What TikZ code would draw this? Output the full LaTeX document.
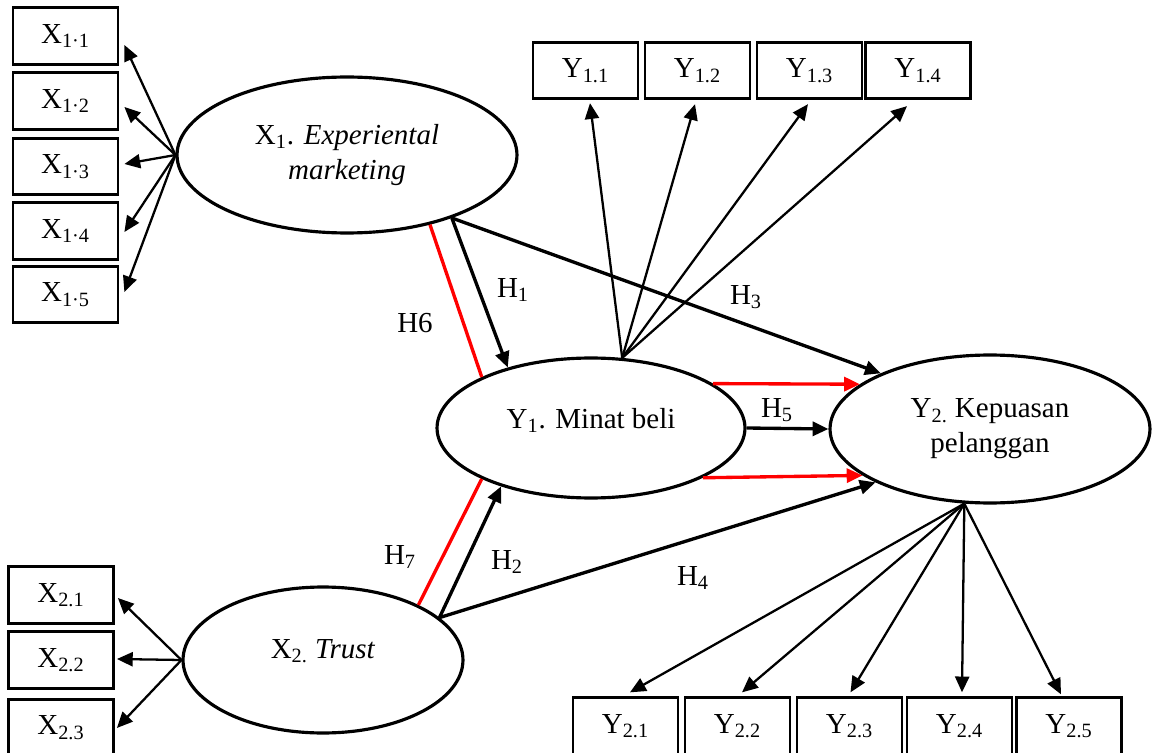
\documentclass[tikz,border=0pt]{standalone}
\usepackage{fontspec}
\setmainfont{Liberation Serif}
\usetikzlibrary{shapes.geometric,arrows.meta,calc}
\begin{document}
\begin{tikzpicture}[x=0.02cm,y=-0.02cm,
  font=\fontsize{16.5}{20}\selectfont,
  ind/.style={draw, line width=1.6pt, minimum width=2.1cm, minimum height=1.13cm, inner sep=0pt},
  lat/.style={draw, ellipse, line width=1.8pt, inner sep=0pt, align=center},
  load/.style={line width=1.3pt, -{Triangle[length=9pt,width=8pt]}},
  hyp/.style={line width=1.9pt, -{Triangle[length=9pt,width=8pt]}},
  redl/.style={line width=1.9pt, red},
  redarr/.style={line width=1.9pt, red, -{Triangle[length=9pt,width=8pt]}},
  lbl/.style={inner sep=0pt}]
\useasboundingbox (0,0) rectangle (1153,753);

% latent variables
\node[lat, minimum width=6.8cm, minimum height=3.12cm] (x1) at (347,155)
  {X\textsubscript{1}. \textit{Experiental}\\ \textit{marketing}};
\node[lat, minimum width=6.16cm, minimum height=2.8cm, text height=6pt, text depth=6pt] (y1) at (591,428)
  {Y\textsubscript{1}. Minat beli};
\node[lat, minimum width=6.4cm, minimum height=2.96cm] (y2) at (990,429)
  {Y\textsubscript{2.} Kepuasan\\ pelanggan};
\node[lat, minimum width=5.6cm, minimum height=2.92cm, text height=6pt, text depth=8pt] (x2) at (323,660)
  {X\textsubscript{2.} \textit{Trust}};

% indicators X1
\node[ind] (b11) at (65.5,36) {X\textsubscript{1·1}};
\node[ind] (b12) at (65.5,101) {X\textsubscript{1·2}};
\node[ind] (b13) at (65.5,166.5) {X\textsubscript{1·3}};
\node[ind] (b14) at (65.5,231) {X\textsubscript{1·4}};
\node[ind] (b15) at (65.5,294.5) {X\textsubscript{1·5}};

% indicators X2
\node[ind] (b21) at (61,595) {X\textsubscript{2.1}};
\node[ind] (b22) at (61,660) {X\textsubscript{2.2}};
\node[ind] (b23) at (61,727.5) {X\textsubscript{2.3}};

% indicators Y1
\node[ind] (c11) at (585.5,70.5) {Y\textsubscript{1.1}};
\node[ind] (c12) at (697.5,70.5) {Y\textsubscript{1.2}};
\node[ind] (c13) at (809.5,70.5) {Y\textsubscript{1.3}};
\node[ind] (c14) at (918,70.5) {Y\textsubscript{1.4}};

% indicators Y2
\node[ind] (d1) at (625.5,726) {Y\textsubscript{2.1}};
\node[ind] (d2) at (737.5,726) {Y\textsubscript{2.2}};
\node[ind] (d3) at (849.5,726) {Y\textsubscript{2.3}};
\node[ind] (d4) at (959.5,726) {Y\textsubscript{2.4}};
\node[ind] (d5) at (1069,726) {Y\textsubscript{2.5}};

% loadings
\foreach \b/\dx/\dy in {b11/5/9, b12/5/6, b13/5/-2.5, b14/5/1, b15/5/-2.5}
  \draw[load] (x1.west) -- ($(\b.east)+(\dx,\dy)$);
\foreach \b/\dx/\dy in {b21/3/3, b22/2/-1, b23/2/0.5}
  \draw[load] (x2.west) -- ($(\b.east)+(\dx,\dy)$);
\foreach \b/\dx/\dy in {c11/4.5/3, c12/-2.5/4, c13/-1.5/4, c14/-11/6}
  \draw[load] (y1.66) -- ($(\b.south)+(\dx,\dy)$);
\foreach \b/\dx/\dy in {d1/4.5/-4, d2/4.5/-4, d3/1/-4, d4/2.5/-4, d5/-8/-2}
  \draw[load] (y2.251) -- ($(\b.north)+(\dx,\dy)$);

% structural paths
\draw[redl] (x1.-40) -- (y1.155);
\draw[hyp] (x1.-31) -- (y1.144);
\draw[hyp] (x1.-31) -- (y2.153);
\draw[redarr] (y1.20) -- (y2.161);
\draw[hyp] (y1.east) -- (y2.west);
\draw[redarr] (y1.-24) -- (y2.200);
\draw[redl] (x2.30) -- (y1.205);
\draw[hyp] (x2.20) -- (y1.213);
\draw[hyp] (x2.20) -- (y2.205);

% labels
\node[lbl] (h6) at (415,323) {H6};
\node[lbl] (h1) at (513,290) {H\textsubscript{1}};
\node[lbl] (h3) at (746,297) {H\textsubscript{3}};
\node[lbl] (h5) at (777,410) {H\textsubscript{5}};
\node[lbl] (h7) at (400,557) {H\textsubscript{7}};
\node[lbl] (h2) at (507,562) {H\textsubscript{2}};
\node[lbl] (h4) at (693,578) {H\textsubscript{4}};
\end{tikzpicture}
\end{document}
